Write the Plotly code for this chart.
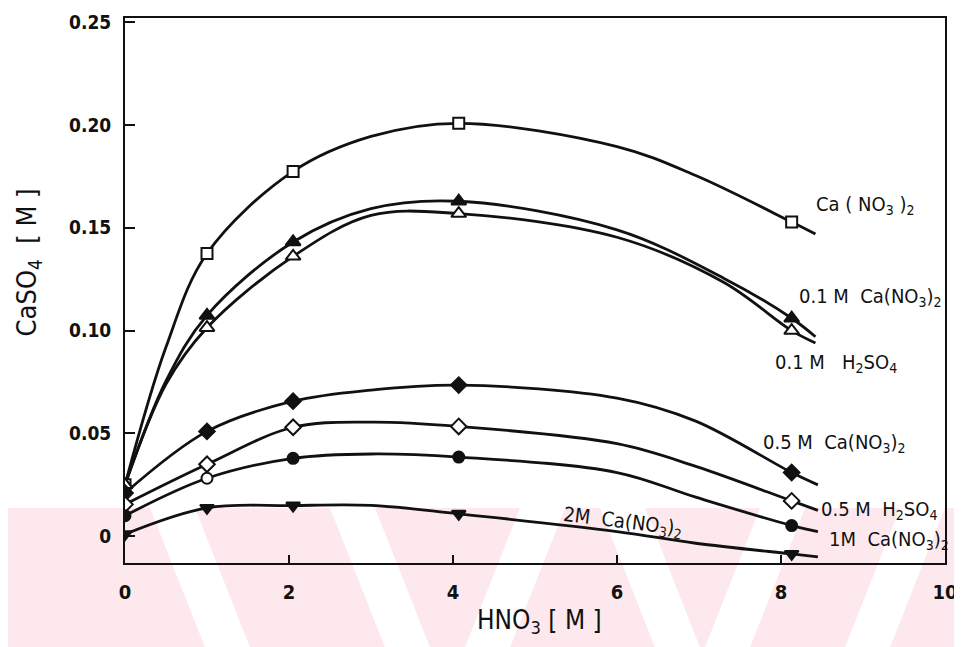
import plotly.graph_objects as go

# ---------------- data ----------------
hno3_pts = [0, 1, 2.05, 4.07, 8.13]

ca_no3_pts = [0.025, 0.1375, 0.1774, 0.2008, 0.1528]
ca01_pts = [0.025, 0.1074, 0.1431, 0.1629, 0.106]
h2so4_01_pts = [0.025, 0.1014, 0.1361, 0.1569, 0.100]
ca05_pts = [0.021, 0.051, 0.0657, 0.0735, 0.031]
h2so4_05_pts = [0.0155, 0.035, 0.053, 0.0534, 0.0172]
ca1_pts = [0.010, 0.0282, 0.0379, 0.0385, 0.0052]
ca2_pts = [0.001, 0.0138, 0.0149, 0.0109, -0.0086]

# smooth fitted curves as drawn in the picture
ca_no3_cx = [0, 0.5, 1, 2.05, 3, 4.07, 6, 6.96, 8.13, 8.42]
ca_no3_cy = [0.025, 0.092, 0.1375, 0.1774, 0.1944, 0.2008, 0.1895, 0.1754, 0.1528, 0.147]

c01_cx = [0, 0.5, 1, 2.05, 3, 4.07, 6, 7.3, 8.13, 8.42]
ca01_cy = [0.025, 0.0755, 0.1074, 0.1431, 0.1593, 0.1629, 0.149, 0.1255, 0.106, 0.097]
h2so4_01_cy = [0.025, 0.074, 0.1014, 0.1361, 0.156, 0.1569, 0.1454, 0.1235, 0.100, 0.094]

low_cx = [0, 1, 2.05, 3, 4.07, 6, 6.96, 8.13, 8.45]
ca05_cy = [0.021, 0.051, 0.0657, 0.0711, 0.0735, 0.0672, 0.056, 0.031, 0.025]
h2so4_05_cy = [0.0155, 0.035, 0.053, 0.0555, 0.0534, 0.045, 0.034, 0.0172, 0.0126]
ca1_cy = [0.010, 0.0282, 0.0379, 0.0400, 0.0385, 0.031, 0.019, 0.0052, 0.0023]
ca2_cy = [0.001, 0.0138, 0.0149, 0.0150, 0.0109, 0.0023, -0.0034, -0.0086, -0.010]

x_ticks = [0, 2, 4, 6, 8, 10]
y_ticks = [0, 0.05, 0.10, 0.15, 0.20, 0.25]
y_ticktext = ["0", "0.05", "0.10", "0.15", "0.20", "0.25"]

labels = [
    ("Ca ( NO<sub>3</sub> )<sub>2</sub>", 8.40, 0.1613, 0),
    ("0.1 M  Ca(NO<sub>3</sub>)<sub>2</sub>", 8.19, 0.1162, 0),
    ("0.1 M   H<sub>2</sub>SO<sub>4</sub>", 7.90, 0.0843, 0),
    ("0.5 M  Ca(NO<sub>3</sub>)<sub>2</sub>", 7.76, 0.0454, 0),
    ("0.5 M  H<sub>2</sub>SO<sub>4</sub>", 8.46, 0.0126, 0),
    ("1M  Ca(NO<sub>3</sub>)<sub>2</sub>", 8.56, -0.0017, 0),
    ("2M  Ca(NO<sub>3</sub>)<sub>2</sub>", 6.07, 0.0069, 7),
]

FONT = "DejaVu Sans Condensed, DejaVu Sans, sans-serif"
BLACK = "#111111"

fig = go.Figure()

curves = [
    (ca_no3_cx, ca_no3_cy),
    (c01_cx, ca01_cy),
    (c01_cx, h2so4_01_cy),
    (low_cx, ca05_cy),
    (low_cx, h2so4_05_cy),
    (low_cx, ca1_cy),
    (low_cx, ca2_cy),
]
for cx, cy in curves:
    fig.add_trace(go.Scatter(x=cx, y=cy, mode="lines",
                             line=dict(color=BLACK, width=2.8, shape="spline", smoothing=1.0),
                             hoverinfo="skip", showlegend=False))

markers = [
    (ca_no3_pts, "square", "white", 11),
    (ca01_pts, "triangle-up", BLACK, 13),
    (h2so4_01_pts, "triangle-up", "white", 13),
    (ca05_pts, "diamond", BLACK, 12),
    (h2so4_05_pts, "diamond", "white", 12),
    (ca1_pts, "circle", [BLACK, "white", BLACK, BLACK, BLACK], 11),
    (ca2_pts, "triangle-down", BLACK, 12),
]
for ys, sym, col, size in markers:
    fig.add_trace(go.Scatter(x=hno3_pts, y=ys, mode="markers",
                             marker=dict(symbol=sym, color=col, size=size,
                                         line=dict(color=BLACK, width=2)),
                             showlegend=False))

annotations = []
for text, x, y, ang in labels:
    annotations.append(dict(x=x, y=y, xref="x", yref="y", text=text, showarrow=False,
                            xanchor="left" if ang == 0 else "center", yanchor="middle",
                            textangle=ang, font=dict(family=FONT, size=20, color=BLACK)))

annotations.append(dict(x=-0.118, y=0.552, xref="paper", yref="paper",
                        text="CaSO<sub>4</sub>  [ M ]", showarrow=False, textangle=-90,
                        xanchor="center", yanchor="middle",
                        font=dict(family=FONT, size=27, color=BLACK)))
annotations.append(dict(x=0.505, y=-0.108, xref="paper", yref="paper",
                        text="HNO<sub>3</sub> [ M ]", showarrow=False,
                        xanchor="center", yanchor="middle",
                        font=dict(family=FONT, size=26, color=BLACK)))

# geometry of the plot area on screen (page body adds an 8px offset)
L, T, PW, PH = 125, 18, 820, 545
OFF = 8


def px(xp):
    return (xp - L) / PW


def py(yp):
    return (T + PH - yp) / PH


# faint pink watermark band at the bottom of the scan
shapes = [dict(type="rect", xref="paper", yref="paper", x0=px(-20), x1=px(980),
               y0=py(660), y1=py(508), fillcolor="#fde9ed", line=dict(width=0), layer="below")]
for xt in [150, 330, 600]:
    shapes.append(dict(type="path", xref="paper", yref="paper", layer="below",
                       path=f"M {px(xt)},{py(508)} L {px(xt+45)},{py(508)} L {px(xt+105)},{py(660)} L {px(xt+60)},{py(660)} Z",
                       fillcolor="white", line=dict(width=0)))
for xt in [520, 760, 900]:
    shapes.append(dict(type="path", xref="paper", yref="paper", layer="below",
                       path=f"M {px(xt)},{py(508)} L {px(xt+45)},{py(508)} L {px(xt-15)},{py(660)} L {px(xt-60)},{py(660)} Z",
                       fillcolor="white", line=dict(width=0)))

fig.update_layout(
    width=962, height=647,
    margin=dict(l=L - OFF, r=962 - (L - OFF) - PW, t=T - OFF, b=647 - (T - OFF) - PH,
                autoexpand=False),
    paper_bgcolor="white", plot_bgcolor="rgba(0,0,0,0)",
    annotations=annotations, shapes=shapes,
    font=dict(family=FONT, color=BLACK),
)
fig.update_xaxes(range=[0, 10], tickvals=x_ticks, ticks="inside", ticklen=8, tickwidth=2,
                 tickcolor=BLACK, showline=True, linewidth=2, linecolor=BLACK, mirror=True,
                 showgrid=False, zeroline=False, ticklabelstandoff=10, automargin=False,
                 tickfont=dict(family=FONT, size=20, color=BLACK, weight="bold"))
fig.update_yaxes(range=[-0.013, 0.252], tickvals=y_ticks, ticktext=y_ticktext, ticks="inside",
                 ticklen=10, tickwidth=2, tickcolor=BLACK, showline=True, linewidth=2,
                 linecolor=BLACK, mirror=True, showgrid=False, zeroline=False,
                 ticklabelstandoff=8, automargin=False,
                 tickfont=dict(family=FONT, size=19, color=BLACK, weight="bold"))

fig.write_html("out.html")
